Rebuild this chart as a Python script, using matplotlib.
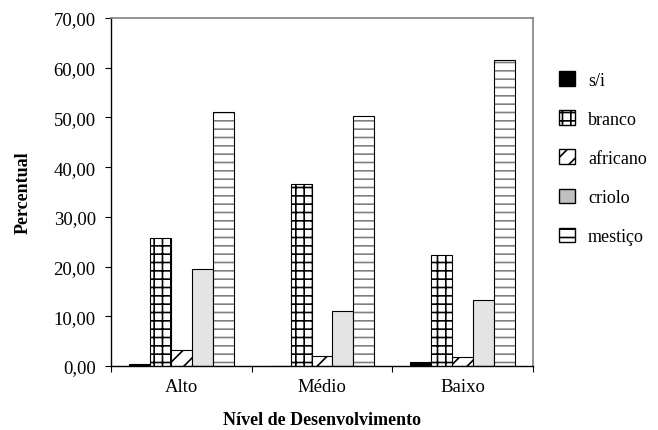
import numpy as np
import matplotlib
matplotlib.use('Agg')
import matplotlib.pyplot as plt
from matplotlib.patches import Patch

# Data
categories = ['Alto', 'Médio', 'Baixo']
series = ['s/i', 'branco', 'africano', 'criolo', 'mestiço']
si = [0.5, 0.1, 0.9]
branco = [25.8, 36.7, 22.3]
africano = [3.2, 2.0, 1.8]
criolo = [19.5, 11.0, 13.3]
mestico = [51.0, 50.2, 61.5]
yticks = [0, 10, 20, 30, 40, 50, 60, 70]

plt.rcParams['font.family'] = ['Liberation Serif', 'DejaVu Serif']
plt.rcParams['hatch.linewidth'] = 1.2

fig = plt.figure(figsize=(6.58, 4.31), dpi=100)
ax = fig.add_axes([111 / 658, 64 / 431, 422 / 658, 348 / 431])

x = np.arange(len(categories))
w = 0.149
offs = (np.arange(5) - 2) * w

ax.bar(x + offs[0], si, w, color='black', edgecolor='black', linewidth=0.8)
ax.bar(x + offs[1], branco, w, color='white', edgecolor='black', hatch='++', linewidth=0.8)
ax.bar(x + offs[2], africano, w, color='white', edgecolor='black', hatch='//', linewidth=0.8)
ax.bar(x + offs[3], criolo, w, color='#e4e4e4', edgecolor='black', linewidth=0.8)
# mestiço: gray hatch lines, black outline
ax.bar(x + offs[4], mestico, w, color='white', edgecolor='#808080', hatch='--', linewidth=0)
ax.bar(x + offs[4], mestico, w, fill=False, edgecolor='black', linewidth=0.8)

ax.set_xlim(-0.5, 2.5)
ax.set_ylim(0, 70)
ax.set_yticks(yticks)
ax.set_yticklabels([f'{v:.2f}'.replace('.', ',') for v in yticks], fontsize=13.5)
ax.set_xticks([-0.5, 0.5, 1.5, 2.5])
ax.set_xticklabels([])
ax.set_xticks(x, minor=True)
ax.set_xticklabels(categories, minor=True, fontsize=13.5)
ax.tick_params(axis='x', which='minor', length=0, pad=9)
ax.tick_params(axis='x', which='major', direction='out', length=4, color='black')
ax.tick_params(axis='y', direction='out', length=4, pad=7)

for s in ['top', 'right']:
    ax.spines[s].set_color('#808080')
    ax.spines[s].set_linewidth(1.2)
for s in ['left', 'bottom']:
    ax.spines[s].set_color('black')
    ax.spines[s].set_linewidth(1.0)

ax.set_ylabel('Percentual', fontsize=13, fontweight='bold', labelpad=16)
ax.set_xlabel('Nível de Desenvolvimento', fontsize=13, fontweight='bold', labelpad=11)

handles = [
    Patch(facecolor='black', edgecolor='black', label=series[0]),
    Patch(facecolor='white', edgecolor='black', hatch='++', label=series[1]),
    Patch(facecolor='white', edgecolor='black', hatch='//', label=series[2]),
    Patch(facecolor='#c0c0c0', edgecolor='black', label=series[3]),
    Patch(facecolor='white', edgecolor='black', hatch='--', label=series[4]),
]
fig.legend(handles=handles, loc='upper left', bbox_to_anchor=(543 / 658, 1 - 56 / 431),
           frameon=False, fontsize=13, handlelength=0.85, handleheight=0.85,
           labelspacing=1.2, handletextpad=0.75)

fig.savefig('out.png', dpi=100)
